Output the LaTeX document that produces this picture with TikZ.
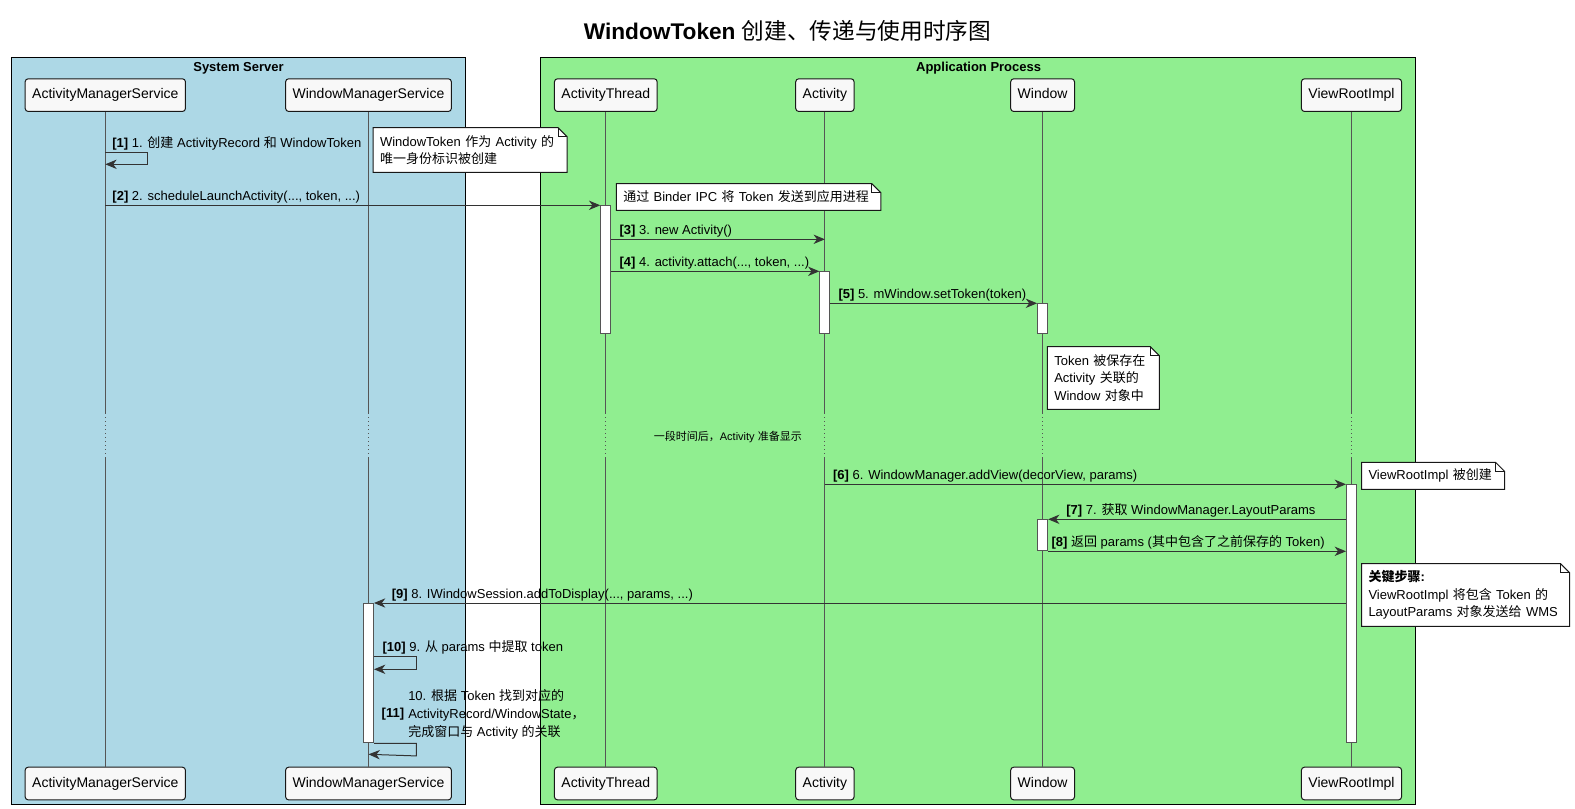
\documentclass[tikz,border=0pt]{standalone}
\usepackage{fontspec}
\setmainfont{Liberation Sans}
\newfontfamily\zhfont{Noto Sans CJK SC}
\newcommand\zh[1]{{\zhfont #1}}
\usetikzlibrary{arrows.meta,positioning}

\definecolor{ssblue}{HTML}{ADD8E6}
\definecolor{appgreen}{HTML}{90EE90}
\definecolor{boxfill}{HTML}{F8F8F8}
\definecolor{linegray}{HTML}{555555}
\definecolor{arrowgray}{HTML}{333333}
\definecolor{edgedark}{HTML}{181818}

\newcommand\msgfont{\fontsize{9.75pt}{13.3pt}\selectfont}
\newcommand\notebox[6]{%
  \pgfmathsetmacro\notew{(#4-14)*0.75}
  \filldraw[notebody] (#2,#3) -- ({#2+#4-9},#3) -- ({#2+#4},{#3+9}) -- ({#2+#4},{#3+#5}) -- (#2,{#3+#5}) -- cycle;
  \draw[notebody, fill=none] ({#2+#4-9},#3) |- ({#2+#4},{#3+9});
  \node[notetext, text width=\notew pt] (#1) at ({#2+#4/2},{#3+#5/2}) {#6};
}

\tikzset{
  actor/.style={draw=edgedark, fill=boxfill, rounded corners=2.25pt, line width=0.75pt, minimum height=24.5pt, text height=7.6pt, text depth=2.2pt, inner xsep=5.25pt, font=\fontsize{10.5pt}{12pt}\selectfont, anchor=north},
  lifeline/.style={draw=linegray, line width=0.75pt},
  actbar/.style={draw=linegray, fill=white, line width=0.75pt, minimum width=7.5pt, inner sep=0pt, anchor=north},
  msg/.style={draw=arrowgray, line width=0.75pt, -{Stealth[length=8.5pt,width=7pt,inset=2.6pt]}},
  lbl/.style={font=\msgfont, inner sep=0pt, anchor=base west, yshift=3.6pt},
  notebody/.style={draw=edgedark, fill=white, line width=0.75pt},
  notetext/.style={font=\msgfont, align=left, inner xsep=0pt, inner ysep=0pt},
  frame/.style={draw=black, line width=0.75pt}
}

\begin{document}
\begin{tikzpicture}[x=0.75pt,y=-0.75pt]
  \useasboundingbox (0,0) rectangle (1575,809);
  \node[font=\fontsize{17pt}{20pt}\selectfont] (title) at (787.5,31) {\textbf{WindowToken} \zh{创建、传递与使用时序图}};

  \draw[frame, fill=ssblue] (11.5,57.3) rectangle (465.4,804.3);
  \draw[frame, fill=appgreen] (540.3,57.3) rectangle (1415.5,804.3);
  \node[font=\bfseries\msgfont] (ssLabel) at (238.5,68.5) {System Server};
  \node[font=\bfseries\msgfont] (appLabel) at (978.6,68.5) {Application Process};

  \foreach \id/\txt/\x in {ams/ActivityManagerService/105.3,wms/WindowManagerService/368.5,at/ActivityThread/605.8,act/Activity/824.9,win/Window/1042.6,vri/ViewRootImpl/1351.5}{
    \node[actor] (\id-top) at (\x,78.3) {\txt};
    \node[actor] (\id-bot) at (\x,766.7) {\txt};
    \draw[lifeline] (\id-top.south) -- (\id-top.south |- 0,413);
    \draw[lifeline, dash pattern=on 0.75pt off 2.25pt] (\id-top.south |- 0,413) -- (\id-top.south |- 0,457);
    \draw[lifeline] (\id-top.south |- 0,457) -- (\id-bot.north);
  }

  \node[actbar, minimum height=96pt] (aAT) at (at-top.south |- 0,205.3) {};
  \node[actbar, minimum height=46.5pt] (aAct) at (act-top.south |- 0,271.3) {};
  \node[actbar, minimum height=22.5pt] (aWin) at (win-top.south |- 0,303.3) {};
  \node[actbar, minimum height=193.5pt] (aVRI) at (vri-top.south |- 0,484.3) {};
  \node[actbar, minimum height=23.25pt] (aWin2) at (win-top.south |- 0,519.3) {};
  \node[actbar, minimum height=104.5pt] (aWMS) at (wms-top.south |- 0,603) {};

  \notebox{nToken}{373}{127.7}{194}{44.6}{WindowToken \zh{作为} Activity \zh{的}\\\zh{唯一身份标识被创建}}
  \notebox{nBinder}{616.3}{183.7}{264.5}{26.6}{\zh{通过} Binder IPC \zh{将} Token \zh{发送到应用进程}}
  \notebox{nSaved}{1047.3}{346.7}{112}{62.6}{Token \zh{被保存在}\\Activity \zh{关联的}\\Window \zh{对象中}}
  \notebox{nVRI}{1361.5}{462.3}{143}{27}{ViewRootImpl \zh{被创建}}
  \notebox{nKey}{1361.5}{563.7}{208}{62.6}{\textbf{\zh{关键步骤}:}\\ViewRootImpl \zh{将包含} Token \zh{的}\\LayoutParams \zh{对象发送给} WMS}

  \draw[msg] (ams-top.south |- 0,152.7) node[lbl, xshift=4.9pt]{\textbf{[1]} 1. \zh{创建} ActivityRecord \zh{和} WindowToken} -- ++(42,0) -- ++(0,11.6) -- (ams-top.south |- 0,164.3);
  \draw[msg] (ams-top.south |- aAT.north) -- node[lbl, pos=0, xshift=5pt]{\textbf{[2]} 2. scheduleLaunchActivity(..., token, ...)} (aAT.north west);
  \draw[msg] (aAT.east |- 0,239.3) -- node[lbl, pos=0, xshift=5.85pt]{\textbf{[3]} 3. new Activity()} (act-top.south |- 0,239.3);
  \draw[msg] (aAT.east |- aAct.north) -- node[lbl, pos=0, xshift=5.85pt]{\textbf{[4]} 4. activity.attach(..., token, ...)} (aAct.north west);
  \draw[msg] (aAct.east |- aWin.north) -- node[lbl, pos=0, xshift=5.7pt]{\textbf{[5]} 5. mWindow.setToken(token)} (aWin.north west);

  \node[font=\fontsize{8.25pt}{10pt}\selectfont] (delay) at (727.8,437.3) {\zh{一段时间后，}Activity \zh{准备显示}};

  \draw[msg] (act-top.south |- aVRI.north) -- node[lbl, pos=0, xshift=5.8pt]{\textbf{[6]} 6. WindowManager.addView(decorView, params)} (aVRI.north west);
  \draw[msg] (aVRI.west |- aWin2.north) -- node[lbl, pos=1, xshift=13.35pt]{\textbf{[7]} 7. \zh{获取} WindowManager.LayoutParams} (aWin2.north east);
  \draw[msg] (aWin2.south east) -- node[lbl, pos=0, xshift=2.25pt]{\textbf{[8]} \zh{返回} params (\zh{其中包含了之前保存的} Token)} (aVRI.west |- aWin2.south);
  \draw[msg] (aVRI.west |- aWMS.north) -- node[lbl, pos=1, xshift=13pt]{\textbf{[9]} 8. IWindowSession.addToDisplay(..., params, ...)} (aWMS.north east);
  \draw[msg] (aWMS.east |- 0,656.7) node[lbl, xshift=6.1pt]{\textbf{[10]} 9. \zh{从} params \zh{中提取} token} -- ++(42.3,0) -- ++(0,12.6) -- (aWMS.east |- 0,669.3);
  \draw[msg] (aWMS.south east) -- ++(42.3,0) -- ++(0,12.6) -- (wms-top.south |- 0,754.3);
  \node[notetext, anchor=west] (t11) at (408,714.3) {10. \zh{根据} Token \zh{找到对应的}\\ActivityRecord/WindowState\zh{，}\\\zh{完成窗口与} Activity \zh{的关联}};
  \node[font=\msgfont, inner sep=0pt, anchor=east] (l11) at ([xshift=-2.7pt]t11.west) {\textbf{[11]}};
\end{tikzpicture}
\end{document}
